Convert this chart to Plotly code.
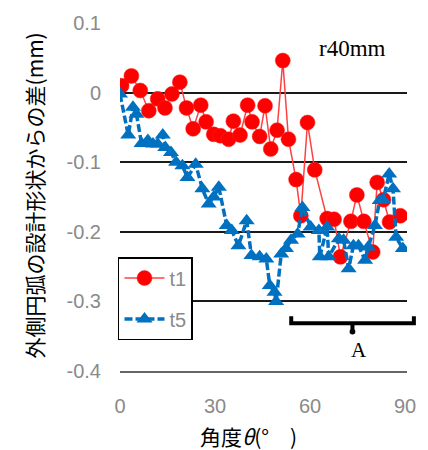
import plotly.graph_objects as go

# t1 (red circles)
t1_x = [0.5, 3.6, 6.4, 9.1, 11.9, 14.2, 16.4, 18.9, 21.0, 23.1, 25.5, 27.2, 29.6, 31.7,
        34.3, 35.8, 37.9, 40.3, 41.7, 44.1, 45.8, 47.6, 49.6, 51.4, 53.2, 55.6, 57.1,
        59.2, 61.5, 65.4, 67.6, 69.6, 72.9, 74.8, 77.0, 79.8, 81.2, 83.2, 85.1, 88.5]
t1_y = [0.010, 0.024, 0.003, -0.026, -0.009, -0.022, -0.002, 0.015, -0.022, -0.052,
        -0.018, -0.042, -0.060, -0.062, -0.067, -0.041, -0.061, -0.018, -0.042, -0.063,
        -0.019, -0.081, -0.054, 0.046, -0.067, -0.125, -0.177, -0.043, -0.111, -0.181,
        -0.182, -0.236, -0.185, -0.147, -0.185, -0.229, -0.129, -0.154, -0.186, -0.177]

# t5 (blue triangles)
t5_x = [0.0, 2.6, 4.1, 5.2, 6.8, 8.8, 10.4, 11.9, 13.5, 14.3, 16.1, 17.7, 19.7, 21.3,
        23.9, 26.0, 28.0, 29.6, 31.2, 33.7, 35.3, 37.4, 40.0, 41.5, 44.1, 46.2, 47.3,
        48.8, 49.3, 50.9, 52.4, 54.0, 56.1, 57.6, 60.2, 62.8, 63.1, 65.4, 65.9, 69.1,
        70.6, 72.2, 73.7, 75.3, 77.4, 78.4, 80.5, 82.0, 83.1, 85.0, 86.2, 87.2, 89.3]
t5_y = [-0.002, -0.061, -0.021, -0.031, -0.073, -0.069, -0.074, -0.074, -0.061, -0.079,
        -0.086, -0.100, -0.105, -0.122, -0.103, -0.138, -0.160, -0.150, -0.136, -0.191,
        -0.198, -0.220, -0.184, -0.234, -0.236, -0.239, -0.277, -0.287, -0.300, -0.232,
        -0.224, -0.212, -0.203, -0.165, -0.193, -0.198, -0.236, -0.193, -0.236, -0.210,
        -0.212, -0.253, -0.220, -0.220, -0.241, -0.222, -0.191, -0.155, -0.154, -0.117,
        -0.138, -0.208, -0.224]

x_ticks = [0, 30, 60, 90]
y_ticks = [0.1, 0, -0.1, -0.2, -0.3, -0.4]
y_tick_text = ["0.1", "0", "-0.1", "-0.2", "-0.3", "-0.4"]

TICKFONT = dict(family="Liberation Sans, Arial", size=20, color="#8a8a8a")

fig = go.Figure()
fig.add_trace(go.Scatter(
    x=t1_x, y=t1_y, name="t1", mode="lines+markers", legendgroup="a",
    line=dict(color="#ff4040", width=1.5),
    marker=dict(symbol="circle", size=15, color="#ff0000",
                line=dict(color="#ff2020", width=0.5)),
))
fig.add_trace(go.Scatter(
    x=t5_x, y=t5_y, name="t5", mode="lines+markers", legendgroup="b",
    line=dict(color="#0070c0", width=3.5, dash="8px,3px"),
    marker=dict(symbol="triangle-up", size=14, color="#0070c0"),
))

# bracket (paper coordinates)
x1, x2, xm = 0.5966, 1.024, 0.810
y0, y1, y2 = 0.1375, 0.1576, 0.113
fig.add_shape(type="path", xref="paper", yref="paper",
              path=f"M {x1},{y1} L {x1},{y0} L {x2},{y0} L {x2},{y1} M {xm},{y0} L {xm},{y2}",
              line=dict(color="black", width=4))
fig.add_shape(type="circle", xref="paper", yref="paper",
              x0=xm - 0.010, x1=xm + 0.010, y0=y2 - 0.008, y1=y2 + 0.008,
              fillcolor="black", line=dict(width=0))

fig.add_annotation(text="r40mm", xref="paper", yref="paper", x=0.81, y=0.928,
                   xanchor="center", yanchor="middle",
                   showarrow=False, font=dict(family="Liberation Serif, Times New Roman",
                                              size=23, color="black"))
fig.add_annotation(text="A", xref="paper", yref="paper", x=0.834, y=0.060,
                   xanchor="center", yanchor="middle",
                   showarrow=False, font=dict(family="Liberation Serif, Times New Roman",
                                              size=21, color="black"))
fig.add_annotation(text="外側円弧の設計形状からの差(mm)", xref="paper", yref="paper",
                   x=(33 - 120) / 290, y=(371 - 195) / 349, textangle=-90,
                   showarrow=False, xanchor="center", yanchor="middle",
                   font=dict(family="Noto Sans CJK JP", size=21, color="black"))
fig.add_annotation(text="角度<i>θ</i>(°　)", xref="paper", yref="paper",
                   x=(250 - 120) / 290, y=(371 - 436) / 349,
                   showarrow=False, xanchor="center", yanchor="middle",
                   font=dict(family="Noto Sans CJK JP", size=21, color="black"))

fig.update_layout(
    width=428, height=450,
    margin=dict(l=120, r=18, t=22, b=79),
    paper_bgcolor="white", plot_bgcolor="white",
    showlegend=True,
    legend=dict(x=-0.007, y=(371 - 256.7) / 349, xanchor="left", yanchor="top",
                bgcolor="white", bordercolor="black", borderwidth=1.5,
                font=dict(family="Liberation Sans, Arial", size=20, color="#8a8a8a"),
                tracegroupgap=12, traceorder="grouped", itemwidth=40),
    xaxis=dict(range=[0, 90.625], tickvals=x_ticks, showgrid=False, zeroline=False,
               showline=True, linecolor="#666666", linewidth=2,
               tickfont=TICKFONT, ticks="", ticklabelstandoff=16),
    yaxis=dict(range=[-0.4, 0.1], tickvals=y_ticks, ticktext=y_tick_text,
               showgrid=True, gridcolor="#1a1a1a", gridwidth=1.5, zeroline=False,
               showline=False, tickfont=TICKFONT, ticks="", ticklabelstandoff=18),
)

fig.write_html("out.html")
